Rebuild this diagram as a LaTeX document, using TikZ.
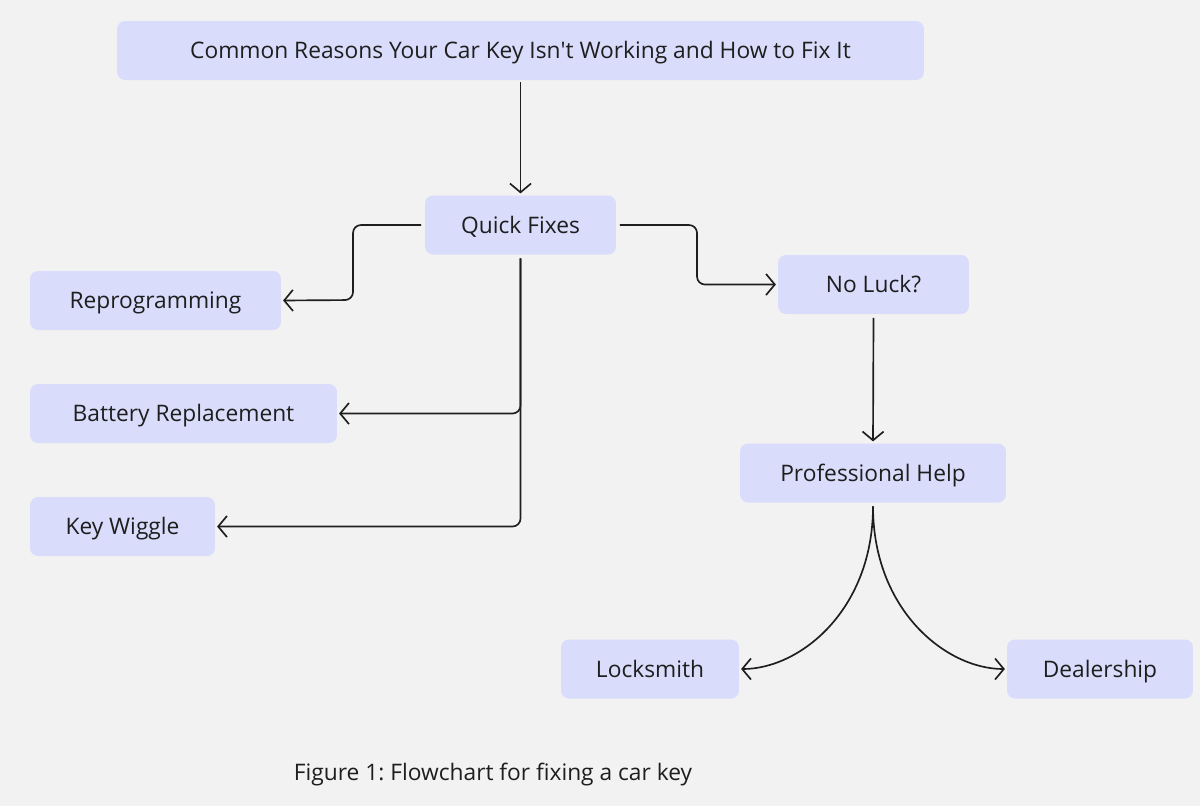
\documentclass[tikz,border=0pt]{standalone}
\usepackage{fontspec}
\setmainfont{Open Sans}
\usetikzlibrary{arrows.meta}
\frenchspacing
\definecolor{bg}{HTML}{F2F2F2}
\definecolor{boxfill}{HTML}{D9DCFA}
\definecolor{ink}{HTML}{1E1E1E}
\tikzset{
  txt/.style={text=ink, font=\fontsize{12.95}{15}\selectfont, text height=9.25pt, text depth=0pt},
  box/.style={txt, draw=none, fill=boxfill, rounded corners=0.16cm, minimum height=1.18cm, inner sep=0pt},
  conn/.style={draw=ink, line width=0.95pt, -{Straight Barb[length=5pt,width=12pt,line width=0.95pt]}, shorten >=1pt},
}
\begin{document}
\begin{tikzpicture}[x=0.02cm,y=-0.02cm]
\fill[bg] (0,0) rectangle (1200,806);
\useasboundingbox (0,0) rectangle (1200,806);
\node[box, minimum width=16.14cm] (title) at (520.5,50.5) {Common Reasons Your Car Key Isn\textquotesingle t Working and How to Fix It};
\node[box, minimum width=3.82cm] (quick) at (520.5,225) {Quick Fixes};
\node[box, minimum width=5.02cm] (repro) at (155.5,300.5) {Reprogramming};
\node[box, minimum width=6.14cm] (battery) at (183.5,413.5) {Battery Replacement};
\node[box, minimum width=3.7cm] (wiggle) at (122.5,526.5) {Key Wiggle};
\node[box, minimum width=3.82cm] (noluck) at (873.5,284.5) {No Luck?};
\node[box, minimum width=5.32cm] (pro) at (873,473) {Professional Help};
\node[box, minimum width=3.56cm] (lock) at (650,669) {Locksmith};
\node[box, minimum width=3.72cm] (deal) at (1100,669) {Dealership};
\node[txt, inner sep=0pt] (cap) at (493,772) {Figure 1: Flowchart for fixing a car key};

\draw[conn] ([yshift=-1pt]title.south) -- (quick.north);
\draw[conn, rounded corners=0.16cm] ([xshift=-2pt]quick.west) -| (353,300) -- (repro.east);
\draw[conn, rounded corners=0.16cm] ([yshift=-2pt]quick.south) |- (battery.east);
\draw[conn, rounded corners=0.16cm] ([yshift=-2pt]quick.south) |- (wiggle.east);
\draw[conn, rounded corners=0.16cm] ([xshift=2pt]quick.east) -| (697,284.5) -- (noluck.west);
\draw[conn] ([yshift=-2pt]noluck.south) -- (pro.north);
\draw[conn] ([yshift=-2pt]pro.south) .. controls (873,610) and (800,669) .. (lock.east);
\draw[conn] ([yshift=-2pt]pro.south) .. controls (873,610) and (946,669) .. (deal.west);
\end{tikzpicture}
\end{document}
